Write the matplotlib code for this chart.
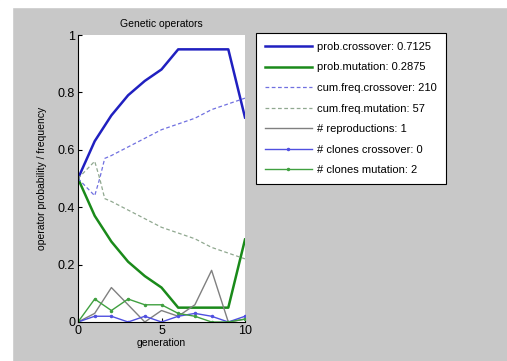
"""Genetic operators chart."""

import matplotlib

matplotlib.use("Agg")
import matplotlib.pyplot as plt
from matplotlib.patches import Rectangle

generation = [0, 1, 2, 3, 4, 5, 6, 7, 8, 9, 10]
prob_crossover = [0.5, 0.63, 0.72, 0.79, 0.84, 0.88, 0.95, 0.95, 0.95, 0.95, 0.7125]
prob_mutation = [0.5, 0.37, 0.28, 0.21, 0.16, 0.12, 0.05, 0.05, 0.05, 0.05, 0.2875]

cum_gen = [0, 0.5, 1.0, 1.3, 1.6, 2, 3, 4, 5, 6, 7, 8, 9, 10]
cum_crossover = [0.5, 0.47, 0.44, 0.5, 0.57, 0.58, 0.61, 0.64, 0.67, 0.69, 0.71, 0.74, 0.76, 0.78]
cum_mutation = [0.5, 0.53, 0.56, 0.5, 0.43, 0.42, 0.39, 0.36, 0.33, 0.31, 0.29, 0.26, 0.24, 0.22]

reproductions = [0, 0.03, 0.12, 0.06, 0.0, 0.04, 0.02, 0.06, 0.18, 0.0, 0.01]
clones_crossover = [0, 0.02, 0.02, 0.0, 0.02, 0.0, 0.02, 0.03, 0.02, 0.0, 0.02]
clones_mutation = [0, 0.08, 0.04, 0.08, 0.06, 0.06, 0.03, 0.02, 0.0, 0.0, 0.01]

labels = [
    "prob.crossover: 0.7125",
    "prob.mutation: 0.2875",
    "cum.freq.crossover: 210",
    "cum.freq.mutation: 57",
    "# reproductions: 1",
    "# clones crossover: 0",
    "# clones mutation: 2",
]

plt.rcParams["font.family"] = ["Liberation Sans", "DejaVu Sans"]
plt.rcParams["font.size"] = 7

fig = plt.figure(figsize=(5.07, 3.61), dpi=100, facecolor="#c8c8c8")
# thin white strip at left and top edge
fig.patches.append(Rectangle((0, 0), 12 / 507, 1, transform=fig.transFigure, color="white", zorder=-1))
fig.patches.append(Rectangle((0, 1 - 7 / 361), 1, 7 / 361, transform=fig.transFigure, color="white", zorder=-1))

ax = fig.add_axes([78 / 507, 1 - 322 / 361, 167 / 507, 287 / 361])
ax.set_facecolor("white")

ax.plot(generation, prob_crossover, color="#2020c0", lw=1.8, label=labels[0])
ax.plot(generation, prob_mutation, color="#1a8a1a", lw=1.8, label=labels[1])
ax.plot(cum_gen, cum_crossover, color="#7070e0", lw=0.9, ls=(0, (3, 2)), label=labels[2])
ax.plot(cum_gen, cum_mutation, color="#90a890", lw=0.9, ls=(0, (3, 2)), label=labels[3])
ax.plot(generation, reproductions, color="#808080", lw=1.0, label=labels[4])
ax.plot(generation, clones_crossover, color="#5050e0", lw=1.0, marker=".", ms=3, label=labels[5])
ax.plot(generation, clones_mutation, color="#40a040", lw=1.0, marker=".", ms=3, label=labels[6])

ax.set_xlim(0, 10)
ax.set_ylim(0, 1)
ax.set_xticks([0, 5, 10])
ax.set_yticks([0, 0.2, 0.4, 0.6, 0.8, 1])
ax.set_yticklabels(["0", "0.2", "0.4", "0.6", "0.8", "1"])
ax.tick_params(direction="in", length=3, labelsize=9, pad=2)
for side in ("top", "right"):
    ax.spines[side].set_visible(False)
ax.set_title("Genetic operators", fontsize=7.5, pad=6)
ax.set_xlabel("generation", fontsize=7.5, labelpad=1)
ax.set_ylabel("operator probability / frequency", fontsize=7.5, labelpad=8)

leg = ax.legend(
    loc="upper left",
    bbox_to_anchor=(256 / 507, 1 - 33 / 361),
    bbox_transform=fig.transFigure,
    frameon=True,
    fancybox=False,
    fontsize=8,
    handlelength=4.2,
    borderpad=0.8,
    labelspacing=0.95,
    handletextpad=0.5,
    borderaxespad=0,
    framealpha=1,
    facecolor="white",
)
leg.get_frame().set_edgecolor("black")
leg.get_frame().set_linewidth(0.8)

fig.savefig("out.png", dpi=100, facecolor=fig.get_facecolor())
